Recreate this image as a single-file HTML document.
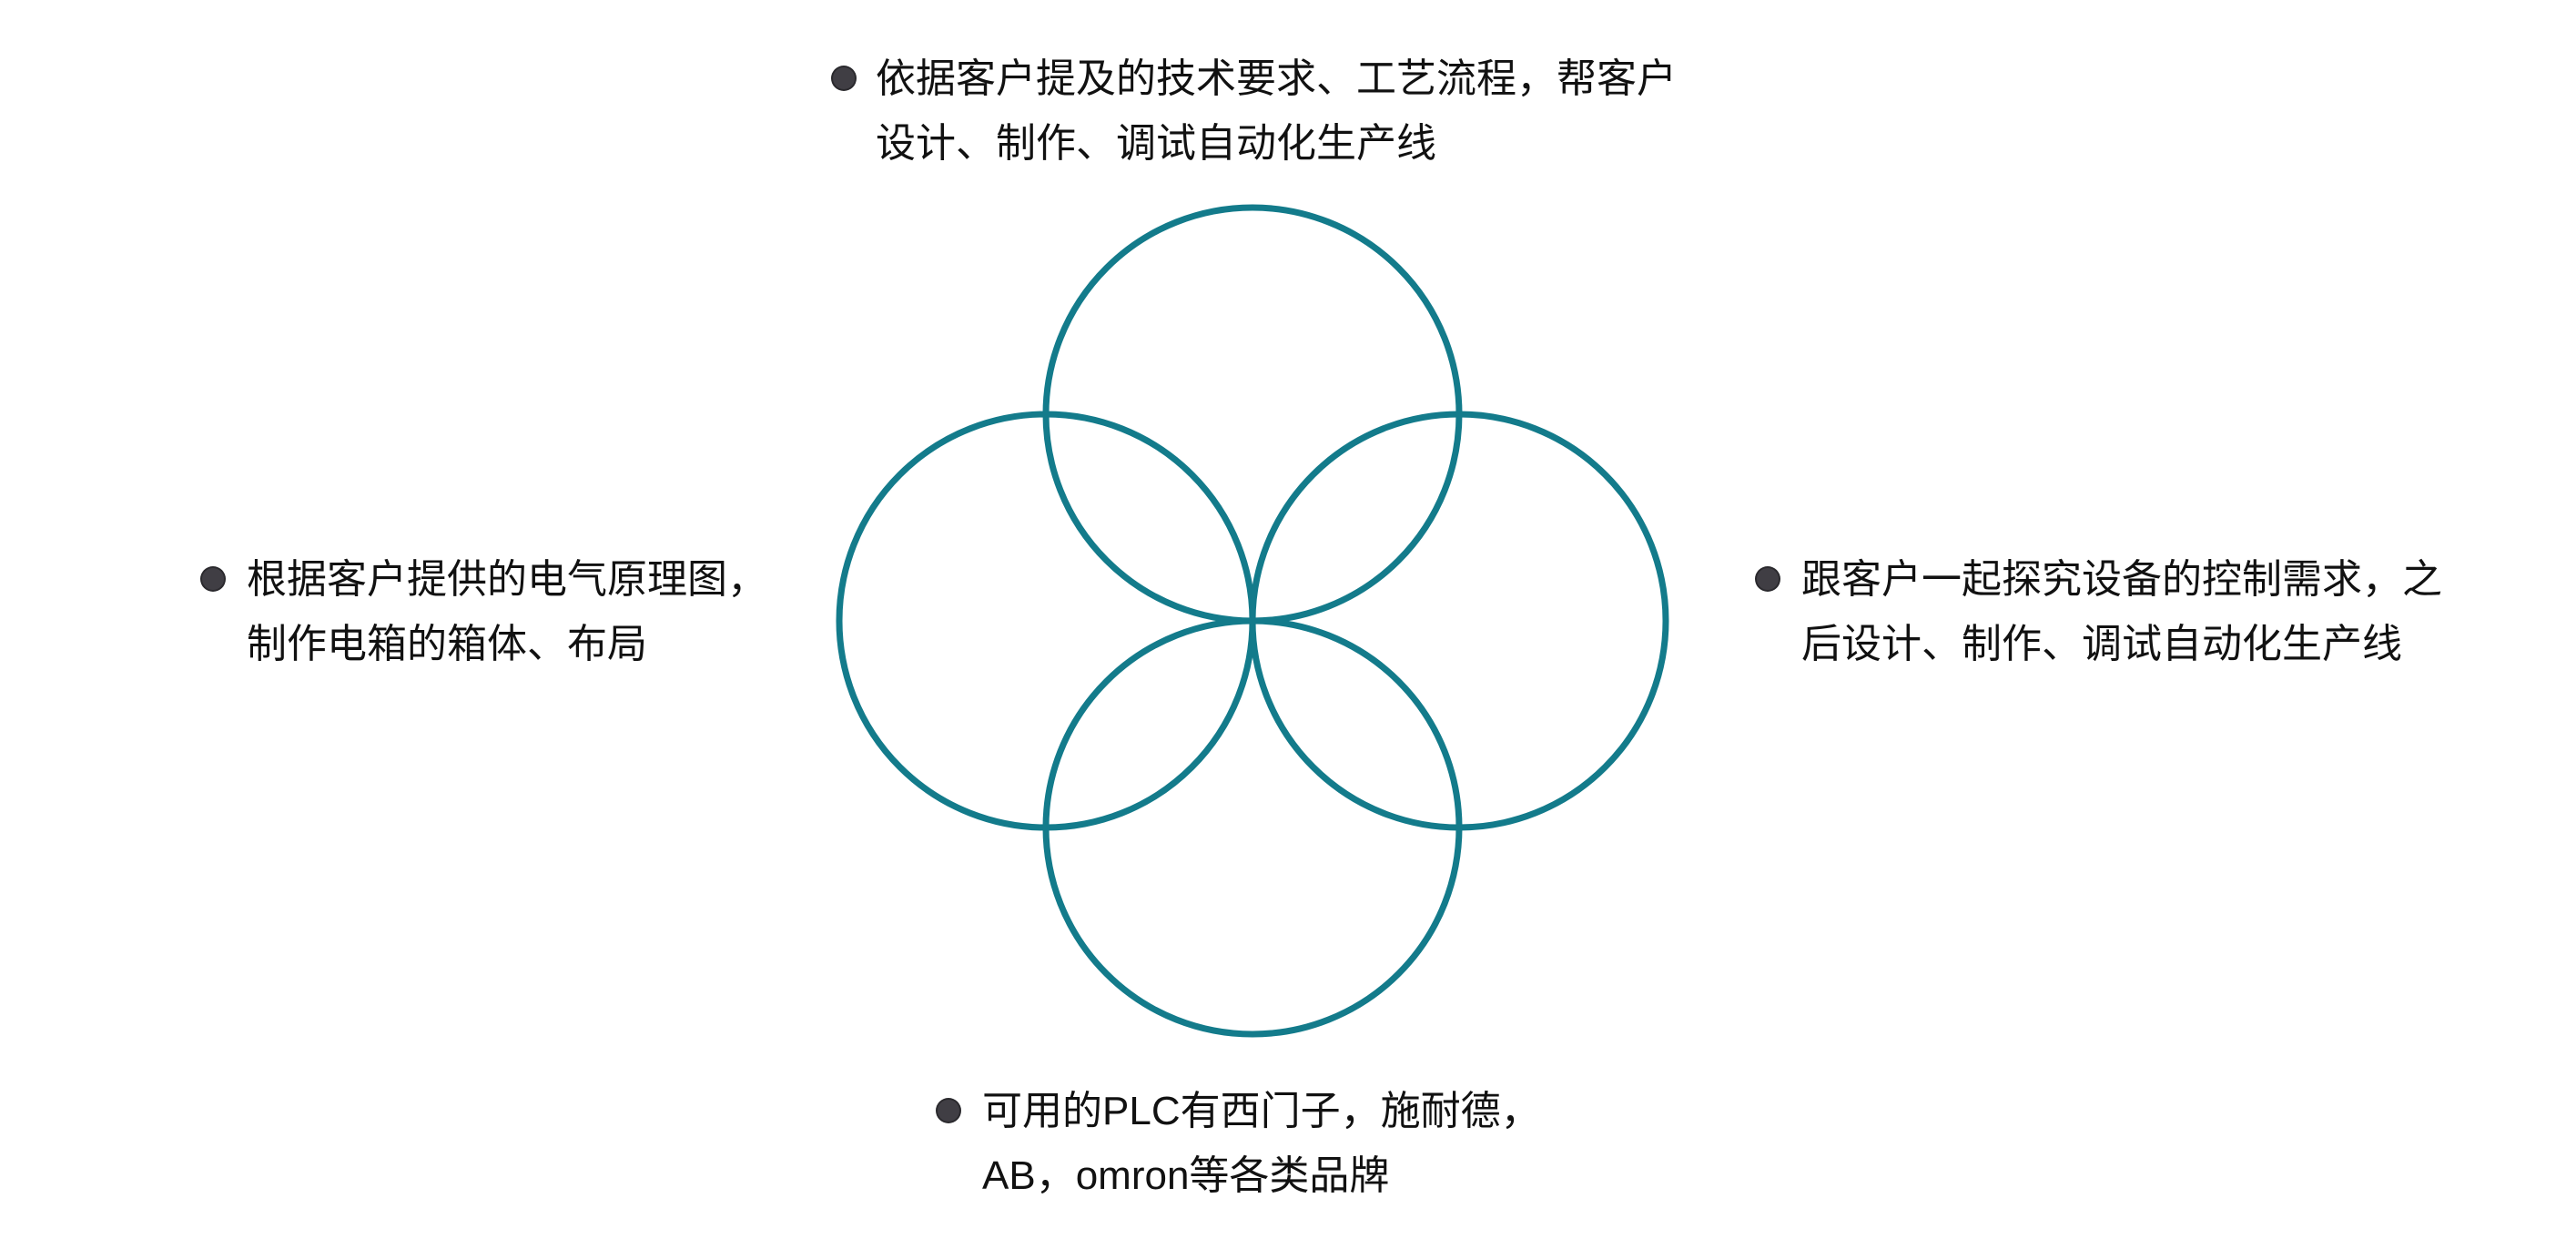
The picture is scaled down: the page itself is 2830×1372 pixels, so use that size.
<!DOCTYPE html>
<html><head><meta charset="utf-8"><style>
html,body{margin:0;padding:0;background:#fff;}
body{width:2830px;height:1372px;position:relative;overflow:hidden;font-family:"Liberation Sans","Noto Sans CJK SC",sans-serif;color:#111;}
.t{position:absolute;font-size:44px;line-height:71px;white-space:nowrap;}
.b{position:absolute;width:24px;height:24px;border-radius:50%;background:#403e44;box-shadow:0 0 0 2px #2a292d;}
</style></head><body>
<svg width="2830" height="1372" style="position:absolute;left:0;top:0">
<g fill="none" stroke="#137b8b" stroke-width="7">
<circle cx="1376" cy="455" r="227"/>
<circle cx="1149" cy="682" r="227"/>
<circle cx="1603" cy="682" r="227"/>
<circle cx="1376" cy="909" r="227"/>
</g>
</svg>
<div class="b" style="left:915px;top:74px"></div>
<div class="t" style="left:962px;top:51px">依据客户提及的技术要求、工艺流程，帮客户<br>设计、制作、调试自动化生产线</div>
<div class="b" style="left:222px;top:624px"></div>
<div class="t" style="left:271px;top:601px">根据客户提供的电气原理图，<br>制作电箱的箱体、布局</div>
<div class="b" style="left:1930px;top:624px"></div>
<div class="t" style="left:1979px;top:601px">跟客户一起探究设备的控制需求，之<br>后设计、制作、调试自动化生产线</div>
<div class="b" style="left:1030px;top:1208px"></div>
<div class="t" style="left:1079px;top:1185px">可用的PLC有西门子，施耐德，<br>AB，omron等各类品牌</div>
</body></html>
